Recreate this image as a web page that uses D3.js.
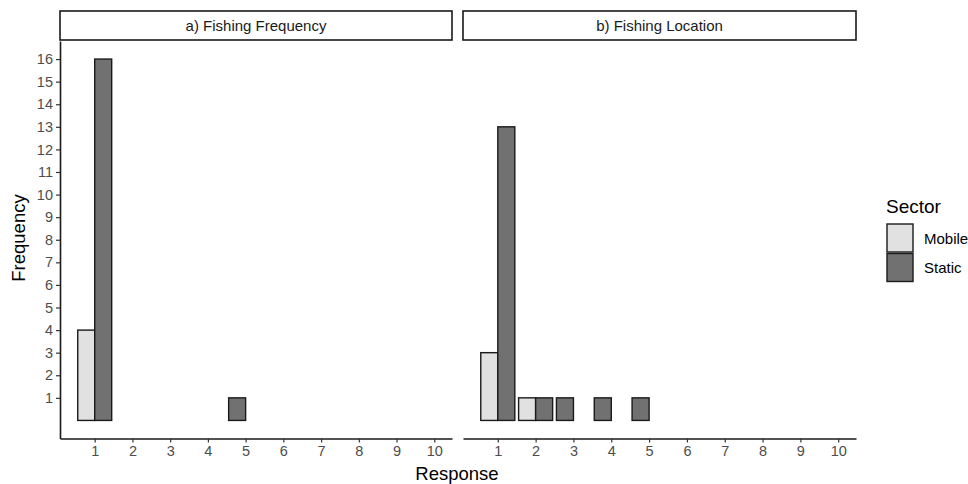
<!DOCTYPE html>
<html>
<head>
<meta charset="utf-8">
<style>
  body { margin: 0; background: #fff; }
  svg { font-family: "Liberation Sans", Arial, sans-serif; }
</style>
</head>
<body>
<svg width="968" height="484" id="chart"></svg>
<script src="https://cdn.jsdelivr.net/npm/d3@7"></script>
<script>

// panel data: response value -> count per sector
const panels = ['a) Fishing Frequency', 'b) Fishing Location']
const sectors = ['Mobile', 'Static']
const sectorColors = ['#e1e1e1', '#717171']

const freqResponse = [1, 5]
const freqMobile = [4, 0]
const freqStatic = [16, 1]

const locResponse = [1, 2, 3, 4, 5]
const locMobile = [3, 1, 0, 0, 0]
const locStatic = [13, 1, 1, 1, 1]

const xTicks = [1, 2, 3, 4, 5, 6, 7, 8, 9, 10]
const yTicks = d3.range(1, 17)

const panelData = [
  { title: panels[0], response: freqResponse, counts: [freqMobile, freqStatic] },
  { title: panels[1], response: locResponse, counts: [locMobile, locStatic] }
]

const svg = d3.select('#chart')
const plotTop = 41, plotBottom = 438.5
const panelX = [[60, 452], [463, 856]]
const barW = 0.45
const font = '"Liberation Sans", Arial, sans-serif'

const y = d3.scaleLinear().domain([-0.8, 16.8]).range([plotBottom, plotTop])

function translate(x, y) { return 'translate(' + x + ',' + y + ')' }

panelData.forEach((p, pi) => {
  const [x0, x1] = panelX[pi]
  const x = d3.scaleLinear().domain([0.08, 10.47]).range([x0, x1])
  const g = svg.append('g')

  // strip
  g.append('rect')
    .attr('x', x0).attr('y', 11).attr('width', x1 - x0).attr('height', 29)
    .attr('fill', '#fff').attr('stroke', '#1a1a1a').attr('stroke-width', 1.6)
  g.append('text')
    .attr('x', (x0 + x1) / 2).attr('y', 31)
    .attr('text-anchor', 'middle').attr('font-size', 15).attr('fill', '#1a1a1a')
    .text(p.title)

  // bars: build records, dodge within each response
  const bars = []
  p.response.forEach((r, i) => {
    const present = sectors.map((s, si) => p.counts[si][i] > 0)
    const n = present.filter(d => d).length
    let slot = 0
    sectors.forEach((s, si) => {
      if (!present[si]) return
      const left = n === 2 ? r - barW + slot * barW : r - barW
      bars.push({ sector: si, left: left, value: p.counts[si][i] })
      slot++
    })
  })

  g.append('g').selectAll('rect')
    .data(bars)
    .enter()
    .append('rect')
      .attr('x', d => x(d.left))
      .attr('width', d => x(d.left + barW) - x(d.left))
      .attr('y', d => y(d.value))
      .attr('height', d => y(0) - y(d.value))
      .attr('fill', d => sectorColors[d.sector])
      .attr('stroke', '#1a1a1a')
      .attr('stroke-width', 1.4)

  // x axis
  const xa = g.append('g').attr('transform', translate(0, plotBottom))
    .call(d3.axisBottom(x).tickValues(xTicks).tickSize(4).tickPadding(3).tickSizeOuter(0))
  xa.select('.domain').attr('stroke', '#1a1a1a').attr('stroke-width', 1.6)
  xa.selectAll('.tick line').attr('stroke', '#333').attr('stroke-width', 1.2)
  xa.selectAll('.tick text').attr('fill', '#4d4d4d').attr('font-size', 14.5)
    .attr('font-family', font)

  // y axis only on first panel
  if (pi === 0) {
    const ya = g.append('g').attr('transform', translate(x0, 0))
      .call(d3.axisLeft(y).tickValues(yTicks).tickSize(4).tickPadding(3).tickSizeOuter(0))
    ya.select('.domain').attr('stroke', '#1a1a1a').attr('stroke-width', 1.6)
    ya.selectAll('.tick line').attr('stroke', '#333').attr('stroke-width', 1.2)
    ya.selectAll('.tick text').attr('fill', '#4d4d4d').attr('font-size', 14.5)
      .attr('font-family', font)
  }
})

// axis titles
svg.append('text')
  .attr('x', 457).attr('y', 480)
  .attr('text-anchor', 'middle').attr('font-size', 18.5).attr('fill', '#000')
  .text('Response')
svg.append('text')
  .attr('transform', translate(25, 238) + ' rotate(-90)')
  .attr('text-anchor', 'middle').attr('font-size', 18.5).attr('fill', '#000')
  .text('Frequency')

// legend
const legend = svg.append('g').attr('transform', translate(886, 0))
legend.append('text')
  .attr('x', 0).attr('y', 213).attr('font-size', 19).attr('fill', '#000')
  .text('Sector')
legend.selectAll('rect.key')
  .data(sectors)
  .enter()
  .append('rect')
    .attr('class', 'key')
    .attr('x', 1).attr('y', (d, i) => 224 + i * 29.5)
    .attr('width', 26).attr('height', 28)
    .attr('fill', (d, i) => sectorColors[i])
    .attr('stroke', '#1a1a1a').attr('stroke-width', 1.4)
legend.selectAll('text.lab')
  .data(sectors)
  .enter()
  .append('text')
    .attr('class', 'lab')
    .attr('x', 38).attr('y', (d, i) => 243.5 + i * 29.5)
    .attr('font-size', 15).attr('fill', '#000')
    .text(d => d)

</script>
</body>
</html>
